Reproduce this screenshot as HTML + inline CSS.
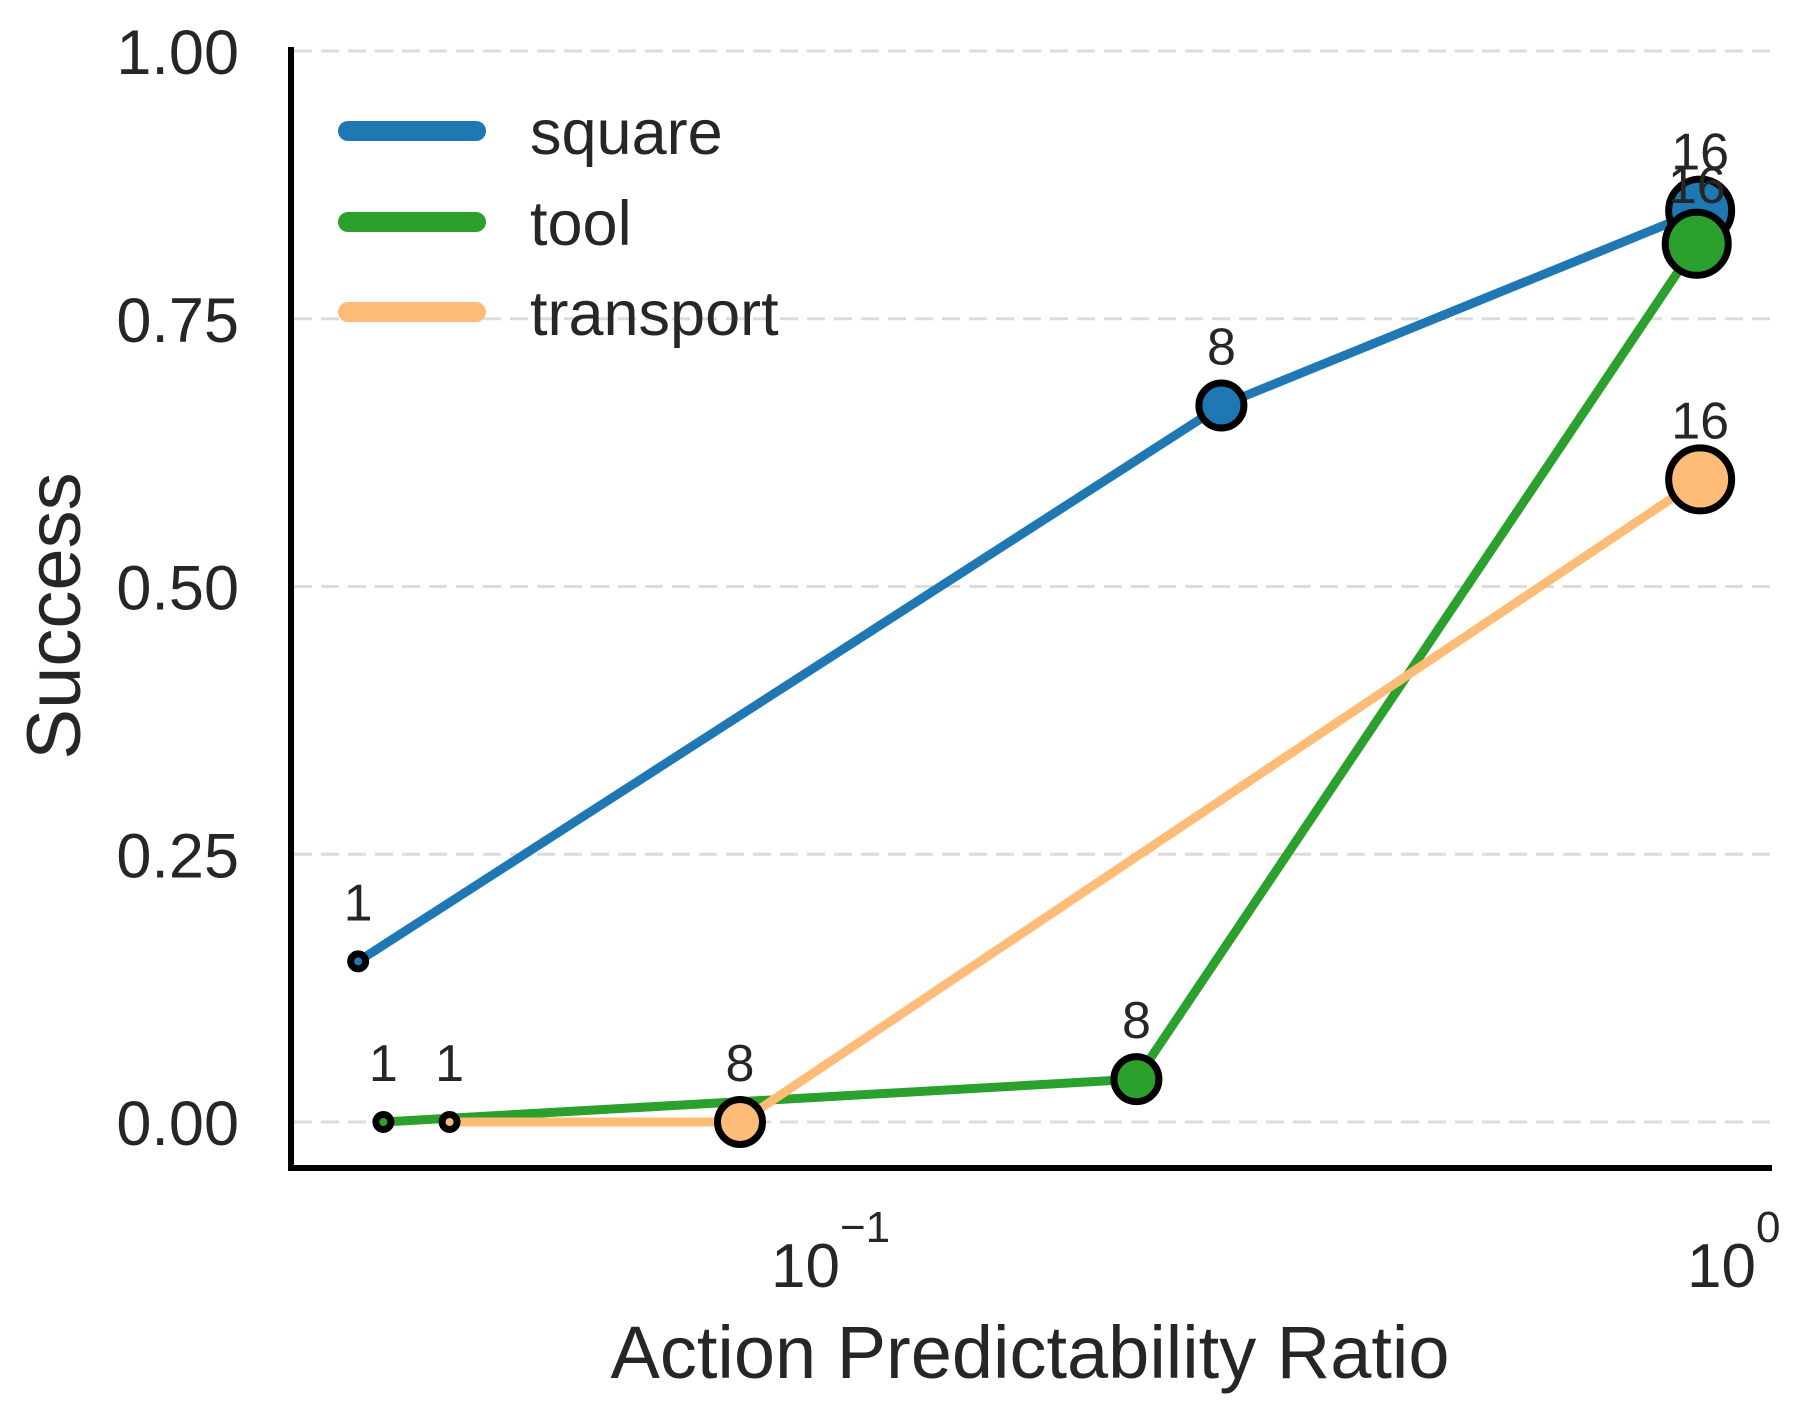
<!DOCTYPE html>
<html><head><meta charset="utf-8"><style>
html,body{margin:0;padding:0;background:#fff;}
svg{display:block;font-family:"Liberation Sans",Arial,sans-serif;}
</style></head><body>
<svg id="chart" width="1812" height="1420" viewBox="0 0 1812 1420" xmlns="http://www.w3.org/2000/svg">
<g id="grid"></g>
<g id="series"></g>
<g id="axes">
  <line x1="291" y1="47" x2="291" y2="1171" stroke="#000" stroke-width="6"/>
  <line x1="288" y1="1168" x2="1772" y2="1168" stroke="#000" stroke-width="6"/>
</g>
<g id="yticks"></g>
<g id="xticks">
  <text x="771" y="1287" font-size="62" fill="#262626">10<tspan font-size="44" dx="0" dy="-45">−1</tspan></text>
  <text x="1687" y="1287" font-size="62" fill="#262626">10<tspan font-size="44" dx="0" dy="-45">0</tspan></text>
</g>
<text x="1030" y="1378" font-size="74" text-anchor="middle" fill="#262626">Action Predictability Ratio</text>
<text transform="translate(80,616) rotate(-90)" font-size="76" text-anchor="middle" fill="#262626">Success</text>
<g id="legend"></g>
</svg>
<script>
const seriesNames = ["square", "tool", "transport"];
const seriesColors = ["#1f77b4", "#2ca02c", "#ffbb78"];
const squareX = [0.0301, 0.272, 0.922];
const squareY = [0.15, 0.669, 0.851];
const toolX = [0.0321, 0.219, 0.914];
const toolY = [0.0, 0.04, 0.82];
const transportX = [0.038, 0.0797, 0.922];
const transportY = [0.0, 0.0, 0.60];
const pointLabels = ["1", "8", "16"];
const yTicks = [0, 0.25, 0.5, 0.75, 1.0];
const yTickLabels = ["0.00", "0.25", "0.50", "0.75", "1.00"];

const NS = "http://www.w3.org/2000/svg";
function xs(v){ return 829 + 903 * Math.log10(v / 0.1); }
function ys(v){ return 1122 - 1071 * v; }
function mk(tag, attrs, parent){
  const e = document.createElementNS(NS, tag);
  for (const k in attrs) e.setAttribute(k, attrs[k]);
  parent.appendChild(e);
  return e;
}
const grid = document.getElementById('grid');
const yt = document.getElementById('yticks');
yTicks.forEach((t, i) => {
  const l = mk('line', {x1: 294, x2: 1775, y1: ys(t), y2: ys(t), stroke: '#dcdcdc', 'stroke-width': 3, 'stroke-dasharray': '18 9'}, grid);
  
  
  const tx = mk('text', {x: 239, y: ys(t) + 23, 'font-size': 63, 'text-anchor': 'end', fill: '#262626'}, yt);
  tx.textContent = yTickLabels[i];
  
  
});
const radii = [11, 26, 35];
const allX = [squareX, toolX, transportX];
const allY = [squareY, toolY, transportY];
const sg = document.getElementById('series');
seriesNames.forEach((name, s) => {
  const g = mk('g', {}, sg);
  
  
  const pts = allX[s].map((x, i) => xs(x) + ',' + ys(allY[s][i])).join(' ');
  const pl = mk('polyline', {points: pts, fill: 'none', stroke: seriesColors[s], 'stroke-width': 9, 'stroke-linejoin': 'round'}, g);
  
  
});
seriesNames.forEach((name, s) => {
  allX[s].forEach((x, i) => {
    const c = mk('circle', {cx: xs(x), cy: ys(allY[s][i]), r: radii[i] - 3.5, fill: seriesColors[s], stroke: '#000', 'stroke-width': 7}, sg);
    
    
    const t = mk('text', {x: xs(x), y: ys(allY[s][i]) - 41, 'font-size': 52, 'text-anchor': 'middle', fill: '#262626'}, sg);
    t.textContent = pointLabels[i];
    
    
  });
});
const lg = document.getElementById('legend');
const legY = [131, 222, 312];
seriesNames.forEach((name, s) => {
  const g = mk('g', {}, lg);
  
  
  mk('line', {x1: 348, x2: 476, y1: legY[s], y2: legY[s], stroke: seriesColors[s], 'stroke-width': 20, 'stroke-linecap': 'round'}, g);
  const t = mk('text', {x: 530, y: legY[s] + 23, 'font-size': 63, fill: '#262626'}, g);
  t.textContent = name;
});
</script>
</body></html>
